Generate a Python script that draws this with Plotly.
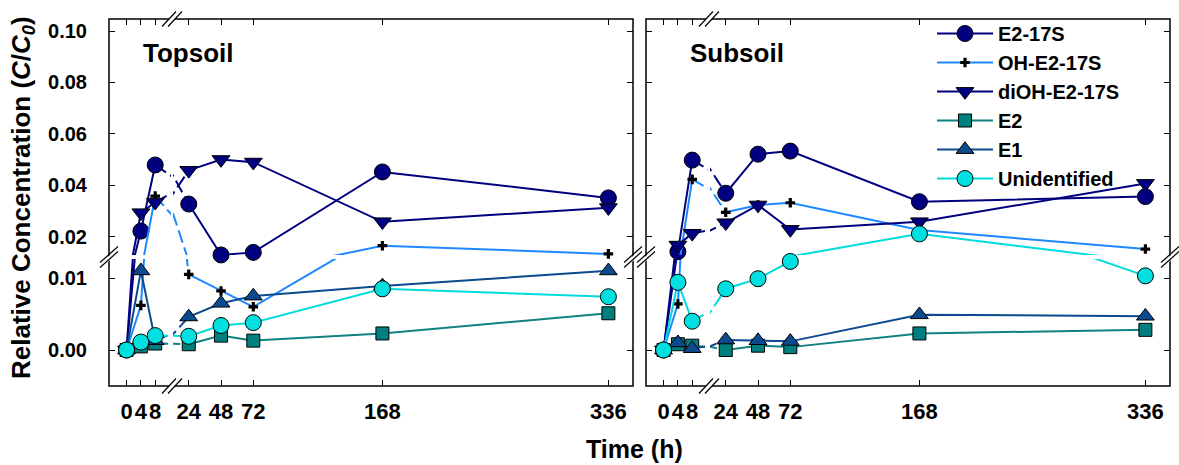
import plotly.graph_objects as go

W, H = 1179, 465
FONT = "Liberation Sans, Arial, sans-serif"

# ---------------- data ----------------
time_h = [0, 4, 8, 24, 48, 72, 168, 336]
series_names = ["E2-17S", "OH-E2-17S", "diOH-E2-17S", "E2", "E1", "Unidentified"]

topsoil_e2_17s = [0.0, 0.0222, 0.0479, 0.0327, 0.0129, 0.0139, 0.0452, 0.0351]
topsoil_oh_e2_17s = [0.0, 0.0062, 0.0358, 0.0105, 0.0082, 0.0060, 0.0165, 0.0133]
topsoil_dioh_e2_17s = [0.0, 0.0293, 0.0334, 0.0458, 0.0500, 0.0490, 0.0258, 0.0313]
topsoil_e2 = [0.0, 0.0005, 0.0009, 0.0008, 0.0020, 0.0013, 0.0023, 0.0051]
topsoil_e1 = [0.0, 0.0110, 0.0013, 0.0046, 0.0065, 0.0075, 0.0089, 0.0110]
topsoil_unidentified = [0.0, 0.0011, 0.0020, 0.0019, 0.0034, 0.0038, 0.0085, 0.0074]

subsoil_e2_17s = [0.0, 0.0142, 0.0498, 0.0369, 0.0521, 0.0533, 0.0336, 0.0356]
subsoil_oh_e2_17s = [0.0, 0.0064, 0.0423, 0.0295, 0.0323, 0.0332, 0.0226, 0.0152]
subsoil_dioh_e2_17s = [0.0, 0.0167, 0.0213, 0.0254, 0.0323, 0.0228, 0.0258, 0.0407]
subsoil_e2 = [0.0, 0.0008, 0.0006, 0.0000, 0.0006, 0.0004, 0.0023, 0.0028]
subsoil_e1 = [0.0, 0.0010, 0.0002, 0.0014, 0.0013, 0.0012, 0.0049, 0.0047]
subsoil_unidentified = [0.0, 0.0094, 0.0040, 0.0085, 0.0099, 0.0123, 0.0211, 0.0103]

x_ticks_low = [0, 4, 8]
x_ticks_high = [24, 48, 72, 168, 336]
y_ticks_low = [0.00, 0.01]
y_ticks_high = [0.02, 0.04, 0.06, 0.08, 0.10]

panel_titles = ["Topsoil", "Subsoil"]
panel_data = [
    [topsoil_e2_17s, topsoil_oh_e2_17s, topsoil_dioh_e2_17s, topsoil_e2, topsoil_e1, topsoil_unidentified],
    [subsoil_e2_17s, subsoil_oh_e2_17s, subsoil_dioh_e2_17s, subsoil_e2, subsoil_e1, subsoil_unidentified],
]

# ---------------- styles ----------------
styles = [
    dict(line="#000080", fill="#000080", symbol="circle", size=16, mline=1),
    dict(line="#1E88FF", fill="black", symbol="cross", size=8, mline=0),
    dict(line="#000080", fill="#000080", symbol="triangle-down", size=15.5, mline=1),
    dict(line="#108080", fill="#007F7F", symbol="square", size=13, mline=1),
    dict(line="#0B4A8E", fill="#0B4A8E", symbol="triangle-up", size=15.5, mline=1),
    dict(line="#00DCDC", fill="#00E0E0", symbol="circle", size=16, mline=1),
]

# ---------------- geometry (pixels) ----------------
PANEL_LEFT = [109, 646]
TITLE_OFFSET = [32, 42]
PW = 524
FR_T, FR_B = 19, 386
ROWS = {"lo": (259, 386), "hi": (19, 255)}
COLS = {"l": (0, 62), "r": (64, PW)}
X_RANGE = {"l": [-4.9, 12.4], "r": [12.3, 354.3]}
Y_RANGE = {"lo": [-0.005, 0.01264], "hi": [0.01288, 0.1047]}
Y_SPLIT = 0.01276
X_SPLIT = 16


def fx(p):
    return p / W


def fy(p):
    return 1 - p / H


fig = go.Figure()
layout_axes = {}
k = 0
for pi, L in enumerate(PANEL_LEFT):
    data = panel_data[pi]
    for row in ("lo", "hi"):
        for col in ("l", "r"):
            k += 1
            xa = "x" if k == 1 else f"x{k}"
            ya = "y" if k == 1 else f"y{k}"
            xname = "xaxis" if k == 1 else f"xaxis{k}"
            yname = "yaxis" if k == 1 else f"yaxis{k}"
            c0, c1 = COLS[col]
            r_top, r_bot = ROWS[row]
            xt = x_ticks_low if col == "l" else x_ticks_high
            yt = y_ticks_low if row == "lo" else y_ticks_high
            layout_axes[xname] = dict(
                domain=[fx(L + c0), fx(L + c1)], range=X_RANGE[col], anchor=ya,
                side="bottom" if row == "lo" else "top",
                tickvals=xt, ticktext=[str(t) for t in xt], tickangle=0,
                showticklabels=(row == "lo"), ticks="inside", ticklen=6, tickwidth=1.3,
                tickcolor="black", showgrid=False, zeroline=False, showline=False,
                ticklabelstandoff=10,
                tickfont=dict(family=FONT, size=22, color="black", weight="bold"),
            )
            layout_axes[yname] = dict(
                domain=[fy(r_bot), fy(r_top)], range=Y_RANGE[row], anchor=xa,
                side="left" if col == "l" else "right",
                tickvals=yt, ticktext=[f"{t:.2f}" for t in yt],
                showticklabels=(col == "l" and pi == 0), ticks="inside", ticklen=6,
                tickwidth=1.3, tickcolor="black", showgrid=False, zeroline=False,
                showline=False, ticklabelstandoff=21,
                tickfont=dict(family=FONT, size=20, color="black", weight="bold"),
            )
            for si, vals in enumerate(data):
                st = styles[si]
                xs = time_h[:3] + [None] + time_h[3:]
                ys = vals[:3] + [None] + vals[3:]
                fig.add_trace(go.Scatter(
                    x=xs, y=ys, mode="lines", xaxis=xa, yaxis=ya, showlegend=False,
                    line=dict(color=st["line"], width=2), hoverinfo="skip"))
                fig.add_trace(go.Scatter(
                    x=time_h[2:4], y=vals[2:4], mode="lines", xaxis=xa, yaxis=ya,
                    showlegend=False, hoverinfo="skip",
                    line=dict(color=st["line"], width=2, dash="13px,5px")))
                mx, my = [], []
                for t, v in zip(time_h, vals):
                    in_col = (t < X_SPLIT) if col == "l" else (t >= X_SPLIT)
                    in_row = (v < Y_SPLIT) if row == "lo" else (v >= Y_SPLIT)
                    if in_col and in_row:
                        mx.append(t)
                        my.append(v)
                fig.add_trace(go.Scatter(
                    x=mx, y=my, mode="markers", xaxis=xa, yaxis=ya, showlegend=False,
                    cliponaxis=False, name=series_names[si],
                    marker=dict(symbol=st["symbol"], size=st["size"], color=st["fill"],
                                line=dict(color="black", width=st["mline"]))))

# legend entries
for si, name in enumerate(series_names):
    st = styles[si]
    fig.add_trace(go.Scatter(
        x=[None], y=[None], mode="lines+markers", name=name, xaxis="x", yaxis="y",
        line=dict(color=st["line"], width=2),
        marker=dict(symbol=st["symbol"], size=st["size"], color=st["fill"],
                    line=dict(color="black", width=st["mline"]))))

shapes = []
for L in PANEL_LEFT:
    shapes.append(dict(type="rect", xref="paper", yref="paper",
                       x0=fx(L), x1=fx(L + PW), y0=fy(FR_B), y1=fy(FR_T),
                       line=dict(color="black", width=1.5), layer="above"))


def hmark(cx, cy):
    # "//" across a horizontal axis line
    pts = [(cx - 10, cy + 7.5), (cx + 4, cy - 7.5), (cx + 10, cy - 7.5), (cx - 4, cy + 7.5)]
    path = "M " + " L ".join(f"{fx(a)},{fy(b)}" for a, b in pts) + " Z"
    out = [dict(type="path", xref="paper", yref="paper", path=path,
                fillcolor="white", line=dict(width=0), layer="above")]
    for d in (-3, 3):
        out.append(dict(type="line", xref="paper", yref="paper",
                        x0=fx(cx - 7 + d), y0=fy(cy + 7.5), x1=fx(cx + 7 + d), y1=fy(cy - 7.5),
                        line=dict(color="black", width=1.2), layer="above"))
    return out


def vmark(cx, cy):
    # "//" across a vertical axis line
    pts = [(cx - 9, cy + 10), (cx + 9, cy - 6), (cx + 9, cy - 1), (cx - 9, cy + 15)]
    pts = [(a, b - 3) for a, b in pts]
    path = "M " + " L ".join(f"{fx(a)},{fy(b)}" for a, b in pts) + " Z"
    out = [dict(type="path", xref="paper", yref="paper", path=path,
                fillcolor="white", line=dict(width=0), layer="above")]
    for d in (-2.5, 2.5):
        out.append(dict(type="line", xref="paper", yref="paper",
                        x0=fx(cx - 9), y0=fy(cy + 8 + d), x1=fx(cx + 9), y1=fy(cy - 8 + d),
                        line=dict(color="black", width=1.2), layer="above"))
    return out


for L in PANEL_LEFT:
    xb = L + (COLS["l"][1] + COLS["r"][0]) / 2
    shapes += hmark(xb, FR_T)
    shapes += hmark(xb, FR_B)
    yb = (ROWS["lo"][0] + ROWS["hi"][1]) / 2
    shapes += vmark(L, yb)
    shapes += vmark(L + PW, yb)

annotations = []
for pi, L in enumerate(PANEL_LEFT):
    annotations.append(dict(text=panel_titles[pi], xref="paper", yref="paper",
                            x=fx(L + TITLE_OFFSET[pi]), y=fy(53), xanchor="left",
                            yanchor="middle", showarrow=False,
                            font=dict(family=FONT, size=26, color="black", weight="bold")))
annotations.append(dict(text="Time (h)", xref="paper", yref="paper", x=fx(634), y=fy(449),
                        xanchor="center", yanchor="middle", showarrow=False,
                        font=dict(family=FONT, size=25, color="black", weight="bold")))
annotations.append(dict(text="Relative Concentration (<i>C</i>/<i>C</i><sub><i>0</i></sub>)",
                        xref="paper", yref="paper", x=fx(22), y=fy(198), textangle=-90,
                        xanchor="center", yanchor="middle", showarrow=False,
                        font=dict(family=FONT, size=26, color="black", weight="bold")))

fig.update_layout(
    width=W, height=H, margin=dict(l=0, r=0, t=0, b=0),
    paper_bgcolor="white", plot_bgcolor="rgba(0,0,0,0)",
    showlegend=True,
    legend=dict(x=fx(932), y=fy(14), xanchor="left", yanchor="top",
                bgcolor="rgba(0,0,0,0)", itemwidth=56,
                font=dict(family=FONT, size=20, color="black", weight="bold")),
    shapes=shapes, annotations=annotations,
    **layout_axes,
)

fig.write_html("out.html")
